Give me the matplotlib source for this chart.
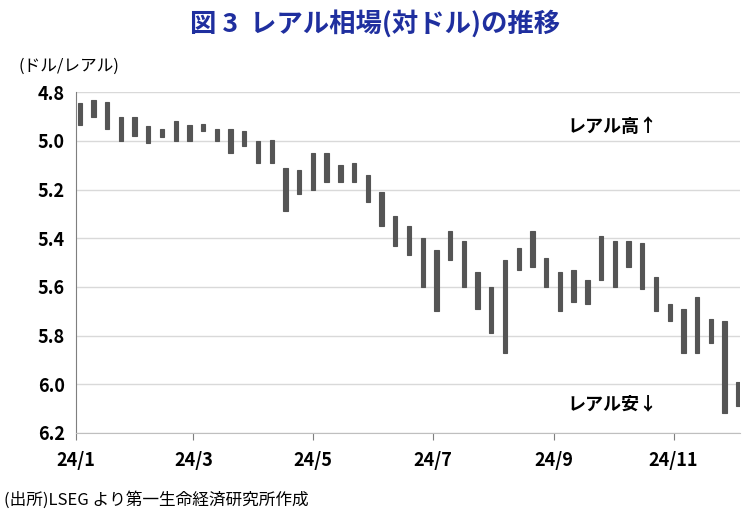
import matplotlib
matplotlib.use("Agg")
import matplotlib.pyplot as plt
import pandas as pd
import numpy as np

plt.rcParams['font.family'] = ['Noto Sans CJK JP', 'DejaVu Sans']

week_start = pd.date_range("2024-01-01", "2024-12-02", freq="W-MON")
lows = [4.845, 4.83, 4.84, 4.90, 4.90, 4.94, 4.95, 4.92, 4.935, 4.93, 4.95, 4.95, 4.96,
        5.00, 4.995, 5.11, 5.12, 5.05, 5.05, 5.10, 5.09, 5.14, 5.21, 5.31, 5.35, 5.40,
        5.45, 5.37, 5.41, 5.54, 5.60, 5.49, 5.44, 5.37, 5.48, 5.54, 5.53, 5.57, 5.39,
        5.41, 5.41, 5.42, 5.56, 5.67, 5.69, 5.64, 5.73, 5.74, 5.99]
highs = [4.935, 4.90, 4.95, 5.00, 4.98, 5.01, 4.985, 5.00, 5.00, 4.96, 5.00, 5.05, 5.02,
         5.09, 5.09, 5.29, 5.22, 5.20, 5.17, 5.17, 5.17, 5.25, 5.35, 5.43, 5.47, 5.60,
         5.70, 5.49, 5.60, 5.69, 5.79, 5.87, 5.53, 5.52, 5.60, 5.70, 5.66, 5.67, 5.57,
         5.60, 5.52, 5.61, 5.70, 5.74, 5.87, 5.87, 5.83, 6.12, 6.09]

fig = plt.figure(figsize=(7.5, 5.21), dpi=100)
ax = fig.add_axes([0.101, 0.169, 0.886, 0.654])

centers = week_start + pd.Timedelta(days=2)
ax.bar(centers, np.array(highs) - np.array(lows), bottom=lows, width=2.2,
       color="#555555", edgecolor="#555555", linewidth=0.8)

vals = np.arange(4.8, 6.21, 0.2)
ax.set_ylim(6.2, 4.8)
ax.set_yticks(vals)
ax.set_yticklabels([f"{v:.1f}" for v in vals], fontsize=13, fontweight="bold")
ax.set_xlim(pd.Timestamp("2024-01-01"), pd.Timestamp("2024-12-05"))
ticks = pd.to_datetime(["2024-01-01", "2024-03-01", "2024-05-01", "2024-07-01", "2024-09-01", "2024-11-01"])
ax.set_xticks(ticks)
ax.set_xticklabels(["24/1", "24/3", "24/5", "24/7", "24/9", "24/11"], fontsize=13, fontweight="bold")
ax.grid(axis="y", color="#d9d9d9", linewidth=1)
ax.set_axisbelow(True)
for s in ["top", "right"]:
    ax.spines[s].set_visible(False)
ax.spines["left"].set_color("#7f7f7f")
ax.spines["bottom"].set_color("#bfbfbf")
ax.tick_params(axis="y", length=0, pad=8)
ax.tick_params(axis="x", length=5, color="#7f7f7f", pad=8, direction="out")

fig.text(0.5, 0.955, "図 3  レアル相場(対ドル)の推移", ha="center", va="center",
         fontsize=19, fontweight="bold", color="#1f2f9f")
fig.text(0.025, 0.872, "(ドル/レアル)", ha="left", va="center", fontsize=12)
fig.text(0.005, 0.04, "(出所)LSEG より第一生命経済研究所作成", ha="left", va="center", fontsize=12)
ax.text(0.74, 0.9, "レアル高↑", transform=ax.transAxes, fontsize=13, fontweight="bold", va="center")
ax.text(0.74, 0.085, "レアル安↓", transform=ax.transAxes, fontsize=13, fontweight="bold", va="center")

fig.savefig("out.png", dpi=100)
